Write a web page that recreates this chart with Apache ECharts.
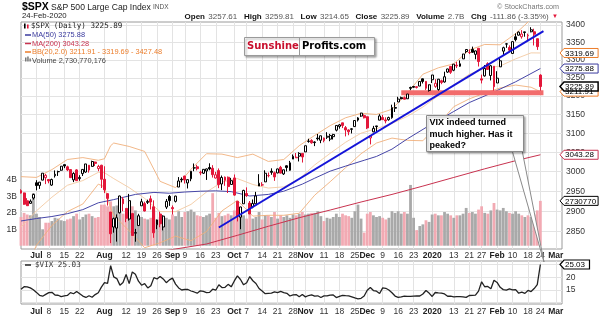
<!DOCTYPE html>
<html>
<head>
<meta charset="utf-8">
<script src="https://cdn.jsdelivr.net/npm/echarts@6.0.0/dist/echarts.min.js"></script>
<style>
html,body{margin:0;padding:0;background:#fff;}
#chart{width:600px;height:323px;}
</style>
</head>
<body>
<div id="chart"></div>
<script>
// ---------------- DATA ----------------
const dates = [
'2019-06-24','2019-06-25','2019-06-26','2019-06-27','2019-06-28',
'2019-07-01','2019-07-02','2019-07-03','2019-07-05',
'2019-07-08','2019-07-09','2019-07-10','2019-07-11','2019-07-12',
'2019-07-15','2019-07-16','2019-07-17','2019-07-18','2019-07-19',
'2019-07-22','2019-07-23','2019-07-24','2019-07-25','2019-07-26',
'2019-07-29','2019-07-30','2019-07-31','2019-08-01','2019-08-02',
'2019-08-05','2019-08-06','2019-08-07','2019-08-08','2019-08-09',
'2019-08-12','2019-08-13','2019-08-14','2019-08-15','2019-08-16',
'2019-08-19','2019-08-20','2019-08-21','2019-08-22','2019-08-23',
'2019-08-26','2019-08-27','2019-08-28','2019-08-29','2019-08-30',
'2019-09-03','2019-09-04','2019-09-05','2019-09-06',
'2019-09-09','2019-09-10','2019-09-11','2019-09-12','2019-09-13',
'2019-09-16','2019-09-17','2019-09-18','2019-09-19','2019-09-20',
'2019-09-23','2019-09-24','2019-09-25','2019-09-26','2019-09-27',
'2019-09-30','2019-10-01','2019-10-02','2019-10-03','2019-10-04',
'2019-10-07','2019-10-08','2019-10-09','2019-10-10','2019-10-11',
'2019-10-14','2019-10-15','2019-10-16','2019-10-17','2019-10-18',
'2019-10-21','2019-10-22','2019-10-23','2019-10-24','2019-10-25',
'2019-10-28','2019-10-29','2019-10-30','2019-10-31','2019-11-01',
'2019-11-04','2019-11-05','2019-11-06','2019-11-07','2019-11-08',
'2019-11-11','2019-11-12','2019-11-13','2019-11-14','2019-11-15',
'2019-11-18','2019-11-19','2019-11-20','2019-11-21','2019-11-22',
'2019-11-25','2019-11-26','2019-11-27','2019-11-29',
'2019-12-02','2019-12-03','2019-12-04','2019-12-05','2019-12-06',
'2019-12-09','2019-12-10','2019-12-11','2019-12-12','2019-12-13',
'2019-12-16','2019-12-17','2019-12-18','2019-12-19','2019-12-20',
'2019-12-23','2019-12-24','2019-12-26','2019-12-27',
'2019-12-30','2019-12-31','2020-01-02','2020-01-03',
'2020-01-06','2020-01-07','2020-01-08','2020-01-09','2020-01-10',
'2020-01-13','2020-01-14','2020-01-15','2020-01-16','2020-01-17',
'2020-01-21','2020-01-22','2020-01-23','2020-01-24',
'2020-01-27','2020-01-28','2020-01-29','2020-01-30','2020-01-31',
'2020-02-03','2020-02-04','2020-02-05','2020-02-06','2020-02-07',
'2020-02-10','2020-02-11','2020-02-12','2020-02-13','2020-02-14',
'2020-02-18','2020-02-19','2020-02-20','2020-02-21',
'2020-02-24','2020-02-25','2020-02-26','2020-02-27','2020-02-28',
'2020-03-02','2020-03-03','2020-03-04'
];

const priorClose = 2950.46;

// [open, high, low, close]
const spx = [
[2951.42,2954.92,2944.05,2945.35],[2945.78,2946.52,2916.01,2917.38],[2926.07,2932.59,2912.99,2913.78],
[2919.66,2929.30,2918.57,2924.92],[2932.94,2943.98,2929.05,2941.76],
[2971.41,2977.93,2952.22,2964.33],[2964.66,2973.21,2955.92,2973.01],[2978.08,2995.84,2977.96,2995.82],
[2984.25,2994.03,2967.97,2990.41],[2979.77,2980.76,2970.09,2975.95],[2965.52,2981.90,2963.44,2979.63],
[2989.30,3002.98,2984.62,2993.07],[2999.62,3002.33,2988.80,2999.91],[3003.36,3013.92,3001.87,3013.77],
[3017.80,3017.80,3008.77,3014.30],[3012.13,3015.02,3001.15,3004.04],[3005.10,3005.26,2984.25,2984.42],
[2978.87,2998.28,2973.09,2995.11],[3004.26,3006.02,2975.86,2976.61],[2981.93,2990.71,2976.65,2985.03],
[2994.74,3005.90,2988.56,3005.47],[2998.77,3019.59,2996.82,3019.56],[3016.26,3016.31,2997.24,3003.67],
[3013.25,3027.98,3012.59,3025.86],[3024.47,3025.61,3014.30,3020.97],[3007.66,3017.19,3000.94,3013.18],
[3016.22,3017.40,2958.08,2980.38],
[2980.32,3013.59,2945.23,2953.56],[2943.90,2945.50,2914.11,2932.05],[2898.07,2898.07,2822.12,2844.74],
[2861.18,2884.40,2847.42,2881.77],[2858.65,2892.17,2825.71,2883.98],[2896.21,2938.72,2894.47,2938.09],
[2930.51,2935.75,2900.15,2918.65],[2907.07,2907.58,2873.14,2882.70],[2880.72,2943.31,2877.05,2926.32],
[2894.15,2894.15,2839.64,2840.60],[2846.20,2856.67,2825.51,2847.60],[2864.74,2893.63,2864.74,2888.68],
[2913.48,2931.00,2913.48,2923.65],[2919.01,2923.63,2899.60,2900.51],[2922.04,2928.73,2917.91,2924.43],
[2930.94,2939.08,2904.51,2922.95],[2911.07,2927.01,2834.97,2847.11],[2866.70,2879.27,2856.00,2878.38],
[2893.14,2898.79,2860.59,2869.16],[2861.28,2890.03,2853.05,2887.94],[2910.37,2930.50,2905.67,2924.58],
[2937.09,2940.43,2913.32,2926.46],
[2909.01,2914.39,2891.85,2906.27],[2924.67,2938.84,2921.86,2937.78],[2960.60,2985.86,2960.60,2976.00],
[2980.33,2985.03,2972.51,2978.71],[2988.43,2989.43,2969.39,2978.43],[2971.01,2979.39,2957.01,2979.39],
[2981.41,3000.93,2975.31,3000.93],[3009.08,3020.74,3000.92,3009.57],[3012.21,3017.33,3002.90,3007.39],
[2996.41,3002.19,2990.67,2997.96],[2995.67,3006.21,2993.73,3005.70],[3001.50,3007.83,2978.57,3006.73],
[3010.36,3021.19,3003.16,3006.79],[3008.42,3016.37,2984.68,2992.07],[2983.50,2999.15,2982.23,2991.78],
[3002.43,3007.98,2957.73,2966.60],[2968.35,2989.82,2952.86,2984.87],[2985.73,2987.28,2963.71,2977.62],
[2985.47,2987.31,2945.53,2961.79],[2967.07,2983.85,2967.07,2976.74],
[2983.69,2992.53,2938.70,2940.25],[2924.78,2924.78,2874.93,2887.61],[2885.38,2911.13,2855.94,2910.63],
[2918.56,2953.74,2918.56,2952.01],[2944.23,2959.75,2935.68,2938.79],[2920.40,2925.47,2892.66,2893.06],
[2911.10,2929.32,2907.41,2919.40],[2918.55,2948.46,2917.12,2938.13],[2963.07,2993.28,2963.07,2970.27],
[2965.81,2972.84,2962.94,2966.15],[2973.61,3003.28,2973.61,2995.68],[2989.68,2997.54,2985.20,2989.69],
[3000.77,3008.29,2991.79,2997.95],[2996.84,3000.00,2976.31,2986.20],[2996.48,3007.33,2995.35,3006.72],
[3010.73,3014.57,2995.04,2995.99],[2994.01,3004.78,2991.21,3004.52],[3014.78,3016.07,3000.42,3010.29],
[3003.32,3027.39,3001.94,3022.55],[3032.12,3044.08,3032.12,3039.42],[3035.39,3047.87,3034.81,3036.89],
[3039.74,3050.10,3025.96,3046.77],[3046.90,3046.90,3023.19,3037.56],
[3050.72,3066.95,3050.72,3066.91],[3078.96,3085.20,3074.87,3078.27],[3080.80,3083.95,3072.15,3074.62],
[3075.10,3078.34,3065.89,3076.78],[3087.02,3097.77,3080.23,3085.18],[3081.25,3093.09,3073.58,3093.08],
[3080.33,3088.33,3075.82,3087.01],[3089.28,3102.61,3084.73,3091.84],[3084.18,3098.06,3078.80,3094.04],
[3090.75,3098.20,3083.26,3096.63],[3107.92,3120.46,3104.60,3120.46],[3117.91,3124.17,3112.06,3122.03],
[3127.45,3127.64,3113.47,3120.18],[3114.66,3118.97,3091.41,3108.46],[3108.49,3110.11,3094.55,3103.54],
[3111.41,3112.87,3099.26,3110.29],[3117.44,3133.83,3117.44,3133.64],[3134.85,3142.69,3131.00,3140.52],
[3145.49,3154.26,3143.41,3153.63],[3147.18,3150.30,3139.34,3140.98],
[3143.85,3144.31,3110.78,3113.87],[3087.41,3094.97,3070.33,3093.20],[3103.50,3119.38,3102.53,3112.76],
[3119.21,3119.45,3103.76,3117.43],[3134.62,3150.60,3134.62,3145.91],[3141.86,3148.87,3135.46,3135.96],
[3135.36,3142.12,3126.09,3132.52],[3135.75,3143.98,3133.21,3141.63],[3141.23,3176.28,3138.47,3168.57],
[3166.65,3182.68,3156.51,3168.80],[3183.63,3197.71,3183.63,3191.45],[3195.40,3198.22,3191.03,3192.52],
[3195.21,3198.48,3191.14,3191.14],[3192.32,3205.48,3192.32,3205.37],[3223.33,3225.65,3216.03,3221.22],
[3226.05,3227.78,3222.30,3224.01],[3225.45,3226.43,3220.51,3223.38],[3227.20,3240.08,3227.20,3239.91],
[3247.23,3247.93,3234.37,3240.02],[3240.09,3240.92,3216.57,3221.29],[3215.18,3231.72,3212.03,3230.78],
[3244.67,3258.14,3235.53,3257.85],[3226.36,3246.15,3222.34,3234.85],[3217.55,3246.84,3214.64,3246.28],
[3241.86,3244.91,3232.43,3237.18],[3238.59,3267.07,3236.67,3253.05],[3266.03,3275.58,3263.67,3274.70],
[3281.81,3282.99,3260.86,3265.35],[3271.13,3288.13,3268.43,3288.13],[3285.35,3294.25,3277.19,3283.15],
[3282.27,3298.66,3280.69,3289.29],[3302.97,3317.11,3302.82,3316.81],[3323.66,3329.88,3318.86,3329.62],
[3321.03,3329.79,3316.61,3320.79],[3330.02,3337.77,3320.04,3321.75],[3315.77,3326.88,3301.87,3325.54],
[3333.10,3333.18,3281.53,3295.47],[3247.16,3258.85,3234.50,3243.63],[3255.35,3285.78,3253.22,3276.24],
[3289.46,3293.47,3271.89,3273.40],[3256.45,3285.91,3242.80,3283.66],[3282.33,3282.33,3214.68,3225.52],
[3235.66,3268.44,3235.66,3248.92],[3280.61,3306.92,3280.61,3297.59],[3324.91,3337.58,3313.75,3334.69],
[3344.92,3347.96,3334.39,3345.78],[3335.54,3341.42,3322.12,3327.71],[3318.28,3352.26,3317.77,3352.09],
[3365.87,3375.63,3352.72,3357.75],[3370.50,3381.47,3369.72,3379.45],[3365.90,3385.09,3360.52,3373.94],
[3378.08,3380.69,3366.15,3380.16],[3369.04,3375.01,3355.61,3370.29],[3380.39,3393.52,3378.83,3386.15],
[3380.45,3389.15,3341.02,3373.23],[3360.50,3360.76,3328.45,3337.75],[3257.61,3259.81,3214.65,3225.89]
];

// volume, billions of shares
const volumeB = [
1.75,2.0,1.9,1.85,3.2,
1.95,1.75,1.0,1.4,1.4,1.5,1.7,1.65,1.55,1.5,1.6,1.65,1.8,1.95,1.6,1.75,1.9,1.95,1.8,1.7,1.75,2.5,
2.5,2.4,2.7,2.4,2.45,2.1,1.95,1.9,2.25,2.4,2.15,1.85,1.75,1.65,1.6,1.7,2.2,1.6,1.75,1.5,1.7,1.6,
1.9,1.8,2.1,1.75,2.05,2.1,2.2,2.05,1.85,1.8,1.75,1.85,1.95,3.2,1.7,2.0,1.8,1.85,1.95,1.85,
2.15,2.3,2.15,1.85,1.65,1.9,1.65,1.75,2.05,1.6,1.85,1.85,1.75,2.05,1.65,1.85,1.75,1.85,1.7,1.9,1.85,1.95,2.05,
1.9,1.95,2.0,2.0,2.1,1.8,1.5,1.7,1.65,1.75,1.95,1.75,1.95,1.85,1.8,1.7,2.1,2.5,1.65,0.8,
1.95,2.05,1.85,1.75,1.8,1.7,1.6,1.7,2.1,2.0,2.1,1.95,2.05,1.95,3.7,1.7,0.95,1.2,1.3,1.55,1.45,
1.9,1.95,1.85,1.85,2.05,1.95,1.85,1.7,1.85,1.85,1.95,2.3,2.0,2.05,1.95,2.2,2.4,2.0,1.95,2.15,2.6,
2.2,2.15,2.3,2.1,2.0,1.95,2.1,1.95,1.85,1.75,1.85,1.75,1.9,2.15,2.730770176
];

const vix = [
15.26,16.28,16.21,15.82,15.08,
14.06,12.93,12.57,13.28,13.96,14.09,13.03,12.93,12.39,12.68,12.86,13.97,13.53,14.45,13.53,12.61,12.07,12.74,12.16,13.20,13.94,16.12,
17.87,17.61,24.59,20.17,19.49,16.91,17.97,21.09,17.52,22.10,21.18,18.47,16.88,17.50,15.80,16.68,19.87,19.32,20.31,19.35,17.88,18.98,
19.66,17.33,15.82,15.00,15.27,15.20,14.61,14.22,13.74,14.67,14.44,13.95,14.05,15.32,14.91,17.05,15.96,16.07,17.22,16.24,
18.56,20.56,19.12,17.04,17.86,20.28,18.64,17.57,15.58,14.57,13.54,13.68,13.79,14.25,14.00,14.46,14.01,13.71,12.65,13.11,13.20,12.33,13.22,
12.30,12.83,13.10,12.62,12.73,12.07,12.69,12.68,13.00,13.05,12.05,12.46,12.86,12.78,12.73,12.34,11.87,11.54,11.75,12.62,
14.91,15.96,14.80,14.52,13.62,15.86,15.68,14.99,13.94,12.63,12.14,12.29,12.58,12.50,12.51,12.61,12.67,12.65,13.43,14.82,13.78,
12.47,14.02,13.85,13.79,13.45,12.54,12.56,12.32,12.39,12.42,12.32,12.10,12.85,12.91,12.98,14.56,18.23,16.28,16.39,15.49,18.84,
17.97,16.05,15.15,14.96,15.47,15.04,15.18,13.74,14.15,13.68,14.83,14.38,15.56,17.08,25.03
];

const ma50Dates = ['2019-06-24','2019-07-01','2019-07-09','2019-07-16','2019-07-23','2019-07-30','2019-08-06','2019-08-15','2019-08-23','2019-08-30','2019-09-09','2019-09-16','2019-09-23','2019-09-30','2019-10-08','2019-10-16','2019-10-23','2019-10-31','2019-11-06','2019-11-13','2019-11-20','2019-11-29','2019-12-05','2019-12-12','2019-12-19','2019-12-31','2020-01-13','2020-01-21','2020-01-31','2020-02-11','2020-02-24'];
const ma50 = [2876,2882,2887,2894,2904,2921,2929,2942,2947,2945,2948,2950,2951,2949,2938,2942,2950,2968,2983,3001,3014,3029,3039,3058,3085,3120,3158,3182,3211,3239,3275.88];

const ma200Dates = ['2019-08-13','2019-08-20','2019-08-27','2019-09-04','2019-09-18','2019-10-02','2019-10-16','2019-10-30','2019-11-13','2019-11-27','2019-12-12','2019-12-27','2020-01-13','2020-01-28','2020-02-11','2020-02-24'];
const ma200 = [2790,2796,2802,2808,2820,2841,2863,2884,2903,2923,2942,2963,2985,3007,3028,3043.28];

const bbDates = ['2019-06-24','2019-07-01','2019-07-09','2019-07-16','2019-07-23','2019-07-30','2019-08-01','2019-08-05','2019-08-06','2019-08-13','2019-08-20','2019-08-27','2019-09-04','2019-09-11','2019-09-18','2019-09-25','2019-10-02','2019-10-09','2019-10-16','2019-10-23','2019-10-30','2019-11-06','2019-11-13','2019-11-20','2019-11-27','2019-12-05','2019-12-12','2019-12-19','2019-12-27','2020-01-06','2020-01-13','2020-01-21','2020-01-28','2020-02-04','2020-02-11','2020-02-19','2020-02-24'];
const bbUpper = [2987,2985,3005,3031,3036,3029,3033,3067,3074,3065,3052,2975,2959,3006,3046,3045,3036,3045,3026,3031,3067,3094,3120,3141,3153,3150,3164,3208,3260,3278,3289,3328,3344,3343,3375,3417,3427.48];
const bbMid = [2861,2901,2935,2965,2977,2998,2997,2987,2982,2959,2932,2899,2899,2917,2948,2973,2982,2967,2958,2961,2981,3017,3047,3076,3100,3112,3126,3145,3170,3201,3230,3260,3276,3283,3303,3320,3319.69];
const bbLower = [2735,2817,2865,2899,2918,2968,2961,2908,2890,2852,2811,2823,2839,2828,2850,2901,2927,2888,2890,2890,2895,2940,2974,3010,3046,3074,3087,3081,3080,3123,3171,3192,3208,3222,3230,3224,3211.91];

const trendDates = ['2019-09-24','2020-02-25'];
const trendVals = [2860,3382];
const supportDates = ['2019-12-17','2020-02-25'];
const supportVals = [3209,3209];

const priceTicks = [2850,2900,2950,3000,3050,3100,3150,3200,3250,3300,3350,3400];
const volumeTicks = [1,2,3,4];
const vixTicks = [15,20];
const vixGrid = [10,15,20,25];
const xTickDates = ['2019-07-01','2019-07-08','2019-07-15','2019-07-22','2019-08-01','2019-08-12','2019-08-19','2019-08-26','2019-09-03','2019-09-09','2019-09-16','2019-09-23','2019-10-01','2019-10-07','2019-10-14','2019-10-21','2019-10-28','2019-11-01','2019-11-11','2019-11-18','2019-11-25','2019-12-02','2019-12-09','2019-12-16','2019-12-23','2020-01-02','2020-01-13','2020-01-21','2020-01-27','2020-02-03','2020-02-10','2020-02-18','2020-02-24','2020-03-02'];
const xTickText = ['Jul','8','15','22','Aug','12','19','26','Sep','9','16','23','Oct','7','14','21','28','Nov','11','18','25','Dec','9','16','23','2020','13','21','27','Feb','10','18','24','Mar'];

// ---------------- BUILD ----------------
const FONT = '"Liberation Sans", Arial, sans-serif';
const MONO = '"DejaVu Sans Mono", monospace';
const RED = '#e3173a';
const BLUE50 = '#3a3a9e';
const RED200 = '#c8324f';
const BBC = '#f0b07c';
const ORANGE = '#ec7d2a';
const LN = Math.log;

const tickMap = {};
xTickDates.forEach((d, i) => { tickMap[d] = xTickText[i]; });
const isTick = (i, v) => Object.prototype.hasOwnProperty.call(tickMap, v);
const fmtX = v => {
  const t = tickMap[v];
  if (!t) return '';
  return /^[A-Z]/.test(t) || t === '2020' ? '{b|' + t + '}' : t;
};

const closes = spx.map(r => r[3]);
const prevCloses = [priorClose].concat(closes.slice(0, -1));
const upDay = closes.map((c, i) => c >= prevCloses[i]);

function candleData(wantUp) {
  return dates.map((d, i) => {
    if (i >= spx.length || upDay[i] !== wantUp) return ['-', '-', '-', '-'];
    const r = spx[i];
    return [LN(r[0]), LN(r[3]), LN(r[2]), LN(r[1])];
  });
}
const logPairs = (ds, vs) => ds.map((d, i) => [d, LN(vs[i])]);
const lastOf = a => a[a.length - 1];

const last = lastOf(spx);
const lastClose = last[3];
const chg = lastClose - lastOf(prevCloses);
const chgPct = chg / lastOf(prevCloses) * 100;
const lastVol = lastOf(volumeB);
const lastVix = lastOf(vix);
const f2 = v => v.toFixed(2);

function xAxis(gi, margin) {
  return {
    type: 'category', gridIndex: gi, data: dates, boundaryGap: false,
    axisLine: { show: false }, axisTick: { show: false },
    axisLabel: {
      interval: isTick, formatter: fmtX, fontSize: 8.5, color: '#333', margin: margin,
      fontFamily: FONT,
      rich: { b: { fontWeight: 'bold', fontSize: 8.5, color: '#222', fontFamily: FONT } }
    },
    splitLine: { show: true, interval: isTick, lineStyle: { color: '#e3e3e3', width: 1 } }
  };
}

function line(data, color, width, z, extra) {
  return Object.assign({
    type: 'line', xAxisIndex: 0, yAxisIndex: 0, data: data, symbol: 'none', showSymbol: false,
    silent: true, animation: false, lineStyle: { color: color, width: width }, z: z
  }, extra || {});
}

const txt = (x, y, text, size, color, opts) => ({
  type: 'text', x: x, y: y, z: 100, silent: true,
  style: Object.assign({ text: text, fontSize: size, fill: color, fontFamily: FONT, verticalAlign: 'middle', align: 'left' }, opts || {})
});

const graphics = [
  txt(22, 7, '$SPX', 10.5, '#000', { fontWeight: 'bold' }),
  txt(51, 7.5, 'S&P 500 Large Cap Index', 8.6, '#222'),
  txt(153, 7.5, 'INDX', 6.5, '#555'),
  txt(22, 16, '24-Feb-2020', 7.8, '#222'),
  txt(559, 7, '\u00A9 StockCharts.com', 7.2, '#777', { align: 'right' }),
  {
    type: 'text', x: 558, y: 16.5, z: 100, silent: true,
    style: {
      text: '{l|Open} {v|' + f2(last[0]) + '}  {l|High} {v|' + f2(last[1]) + '}  {l|Low} {v|' + f2(last[2]) +
        '}  {l|Close} {v|' + f2(last[3]) + '}  {l|Volume} {v|' + lastVol.toFixed(1) + 'B}  {l|Chg} {v|' + f2(chg) +
        ' (' + f2(chgPct) + '%)} {r|\u25BC}',
      align: 'right', verticalAlign: 'middle',
      rich: {
        l: { fontWeight: 'bold', fontSize: 8, fill: '#111', fontFamily: FONT },
        v: { fontSize: 8, fill: '#555', fontFamily: FONT },
        r: { fontSize: 6, fill: RED, fontFamily: FONT }
      }
    }
  },
  // legend inside price panel
  { type: 'rect', z: 100, silent: true, shape: { x: 24, y: 23.5, width: 1.6, height: 5 }, style: { fill: '#000' } },
  { type: 'rect', z: 100, silent: true, shape: { x: 27, y: 24.5, width: 1.6, height: 4 }, style: { fill: RED } },
  txt(31, 26.5, '$SPX (Daily) ' + f2(lastClose), 7.6, '#222', { fontFamily: MONO }),
  { type: 'line', z: 100, silent: true, shape: { x1: 25, y1: 35, x2: 31, y2: 35 }, style: { stroke: BLUE50, lineWidth: 1.5 } },
  txt(32, 35, 'MA(50) ' + f2(lastOf(ma50)), 7.4, BLUE50),
  { type: 'line', z: 100, silent: true, shape: { x1: 25, y1: 43.5, x2: 31, y2: 43.5 }, style: { stroke: RED200, lineWidth: 1.5 } },
  txt(32, 43.5, 'MA(200) ' + f2(lastOf(ma200)), 7.4, RED200),
  { type: 'line', z: 100, silent: true, shape: { x1: 25, y1: 52, x2: 31, y2: 52 }, style: { stroke: ORANGE, lineWidth: 1.5 } },
  txt(32, 52, 'BB(20,2.0) ' + f2(lastOf(bbLower)) + ' - ' + f2(lastOf(bbMid)) + ' - ' + f2(lastOf(bbUpper)), 7.4, ORANGE),
  { type: 'rect', z: 100, silent: true, shape: { x: 25, y: 57.5, width: 1.5, height: 4 }, style: { fill: '#777' } },
  { type: 'rect', z: 100, silent: true, shape: { x: 27.2, y: 56.5, width: 1.5, height: 5 }, style: { fill: '#777' } },
  { type: 'rect', z: 100, silent: true, shape: { x: 29.4, y: 58.5, width: 1.5, height: 3 }, style: { fill: '#777' } },
  txt(32, 60.5, 'Volume ' + Math.round(lastVol * 1e9).toLocaleString('en-US'), 7.4, '#444'),
  // VIX legend
  { type: 'line', z: 100, silent: true, shape: { x1: 25, y1: 265, x2: 31, y2: 265 }, style: { stroke: '#222', lineWidth: 1.5 } },
  txt(35, 265, '$VIX ' + f2(lastVix), 7.6, '#333', { fontFamily: MONO }),
  // Sunshine Profits logo
  { type: 'rect', z: 100, silent: true, shape: { x: 244.5, y: 37.5, width: 130, height: 18 },
    style: { fill: '#fff', stroke: '#9a9a9a', lineWidth: 1, shadowBlur: 2, shadowOffsetX: 1.5, shadowOffsetY: 1.5, shadowColor: 'rgba(0,0,0,0.35)' } },
  { type: 'line', z: 101, silent: true, shape: { x1: 299.5, y1: 37.5, x2: 299.5, y2: 55.5 }, style: { stroke: '#9a9a9a', lineWidth: 1 } },
  txt(247, 46.5, 'Sunshine', 10, '#c8102e', { fontWeight: 'bold', fontFamily: '"DejaVu Sans", sans-serif' }),
  txt(302, 46.5, 'Profits.com', 10, '#000', { fontWeight: 'bold', fontFamily: '"DejaVu Sans", sans-serif' }),
  // annotation callout
  { type: 'polygon', z: 100, silent: true, shape: { points: [[512, 150], [522, 150], [544, 262]] },
    style: { fill: '#fff', stroke: '#8a8a8a', lineWidth: 1 } },
  { type: 'rect', z: 101, silent: true, shape: { x: 426.5, y: 115.5, width: 97, height: 36 },
    style: { fill: '#fff', stroke: '#8a8a8a', lineWidth: 1, shadowBlur: 2, shadowOffsetX: 1.5, shadowOffsetY: 1.5, shadowColor: 'rgba(0,0,0,0.35)' } },
  { type: 'text', z: 102, silent: true, x: 429.5, y: 117,
    style: { text: 'VIX indeed turned\nmuch higher. Has it\npeaked?', fontSize: 9, fontWeight: 'bold', fill: '#000',
      fontFamily: FONT, lineHeight: 11.5, align: 'left', verticalAlign: 'top' } }
];

const option = {
  animation: false,
  backgroundColor: '#fff',
  grid: [
    { left: 21, top: 22, width: 541, height: 227, show: true, borderColor: '#9a9a9a', borderWidth: 1, backgroundColor: 'transparent' },
    { left: 21, top: 261, width: 541, height: 43, show: true, borderColor: '#9a9a9a', borderWidth: 1, backgroundColor: 'transparent' }
  ],
  xAxis: [xAxis(0, 2), xAxis(1, 3)],
  yAxis: [
    {
      type: 'value', gridIndex: 0, position: 'right', min: LN(2808), max: LN(3408.7),
      axisLine: { show: false },
      axisTick: { show: false, customValues: priceTicks.map(LN) },
      axisLabel: { customValues: priceTicks.map(LN), formatter: v => String(Math.round(Math.exp(v))),
        fontSize: 8.5, color: '#333', margin: 4, fontFamily: FONT },
      splitLine: { show: true, lineStyle: { color: '#e3e3e3', width: 1 } }
    },
    {
      type: 'value', gridIndex: 0, position: 'left', min: -0.2, max: 13.62,
      axisLine: { show: false },
      axisTick: { show: false, customValues: volumeTicks },
      axisLabel: { customValues: volumeTicks, formatter: v => v + 'B', fontSize: 8.5, color: '#333', margin: 4, fontFamily: FONT },
      splitLine: { show: false }
    },
    {
      type: 'value', gridIndex: 1, position: 'right', min: 9.5, max: 26.4,
      axisLine: { show: false },
      axisTick: { show: false, customValues: vixGrid },
      axisLabel: { customValues: vixTicks, fontSize: 8.5, color: '#333', margin: 4, fontFamily: FONT },
      splitLine: { show: true, lineStyle: { color: '#e3e3e3', width: 1 } }
    }
  ],
  series: [
    {
      type: 'bar', xAxisIndex: 0, yAxisIndex: 1, data: volumeB, barWidth: 2.8, silent: true, z: 1,
      itemStyle: { color: p => upDay[p.dataIndex] ? '#a9a9a9' : '#f2aab3' }
    },
    line(logPairs(bbDates, bbUpper), BBC, 0.9, 2),
    line(logPairs(bbDates, bbMid), '#f3c9a2', 0.9, 2),
    line(logPairs(bbDates, bbLower), BBC, 0.9, 2),
    line(logPairs(ma200Dates, ma200), RED200, 1, 3),
    line(logPairs(ma50Dates, ma50), '#4646a8', 1, 3),
    line(logPairs(supportDates, supportVals), '#f26c6c', 5, 4),
    {
      type: 'candlestick', xAxisIndex: 0, yAxisIndex: 0, data: candleData(true), barWidth: 2.4, silent: true, z: 5,
      itemStyle: { color: '#fff', color0: '#000', borderColor: '#000', borderColor0: '#000', borderWidth: 1 }
    },
    {
      type: 'candlestick', xAxisIndex: 0, yAxisIndex: 0, data: candleData(false), barWidth: 2.4, silent: true, z: 5,
      itemStyle: { color: '#fff', color0: RED, borderColor: RED, borderColor0: RED, borderWidth: 1 }
    },
    line(logPairs(trendDates, trendVals), '#1414d8', 2, 6),
    {
      type: 'line', xAxisIndex: 1, yAxisIndex: 2, data: vix, symbol: 'none', showSymbol: false, silent: true,
      lineStyle: { color: '#222', width: 1.3 }, z: 3
    }
  ],
  graphic: graphics
};

const chart = echarts.init(document.getElementById('chart'), null, { renderer: 'canvas' });
chart.setOption(option);

// right-edge value tags, placed through the axes' own scales
const tagDefs = [
  { axis: 0, v: LN(lastOf(bbLower)), text: f2(lastOf(bbLower)), color: ORANGE, lw: 1 },
  { axis: 0, v: LN(lastOf(bbMid)), text: f2(lastOf(bbMid)), color: ORANGE, lw: 1 },
  { axis: 0, v: LN(lastOf(ma50)), text: f2(lastOf(ma50)), color: BLUE50, lw: 1 },
  { axis: 0, v: LN(lastOf(ma200)), text: f2(lastOf(ma200)), color: RED200, lw: 1 },
  { axis: 1, v: lastVol, text: String(Math.round(lastVol * 1e6)), color: '#000', lw: 1 },
  { axis: 0, v: LN(lastClose), text: f2(lastClose), color: '#000', lw: 1.5 },
  { axis: 2, v: lastVix, text: f2(lastVix), color: '#000', lw: 1.2 }
];
const tagItems = [];
tagDefs.forEach((d, i) => {
  const y = chart.convertToPixel({ yAxisIndex: d.axis }, d.v);
  const x0 = 560;
  const w = d.text.length * 4.3 + 8;
  tagItems.push({
    type: 'polygon', id: 'tagp' + i, z: 110, silent: true,
    shape: { points: [[x0, y], [x0 + 4, y - 4.5], [x0 + w, y - 4.5], [x0 + w, y + 4.5], [x0 + 4, y + 4.5]] },
    style: { fill: '#fff', stroke: d.color, lineWidth: d.lw }
  });
  tagItems.push({
    type: 'text', id: 'tagt' + i, z: 111, silent: true, x: x0 + 5, y: y + 0.5,
    style: { text: d.text, fontSize: 8, fill: '#000', fontFamily: FONT, verticalAlign: 'middle', align: 'left' }
  });
});
chart.setOption({ graphic: graphics.concat(tagItems) });
</script>
</body>
</html>
